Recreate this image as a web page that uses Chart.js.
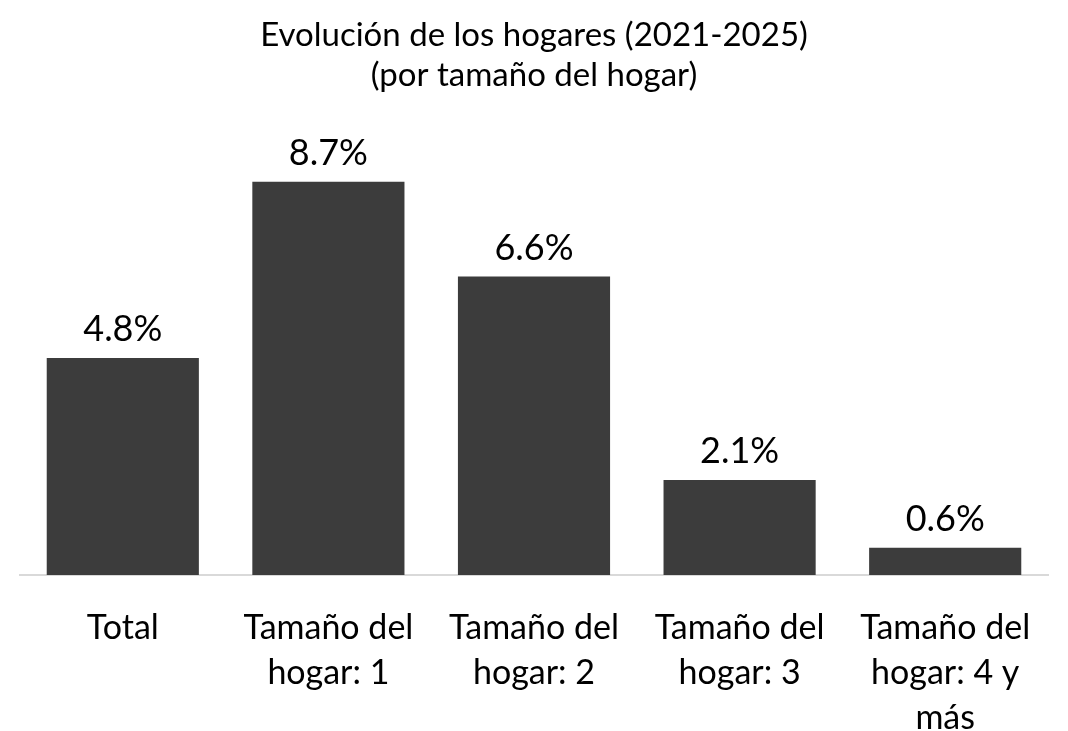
<!DOCTYPE html>
<html lang="es">
<head>
    <meta charset="UTF-8">
    <title>Evolución de los hogares</title>
    <style>
        body { margin: 0; padding: 0; background: #fff; }
        #wrap { width: 1068px; height: 731px; position: relative; }
    </style>
</head>
<body>
    <div id="wrap"><canvas id="grafico"></canvas></div>

    <script src="https://cdn.jsdelivr.net/npm/chart.js"></script>
    <script>
        var categorias = [
            ["Total"],
            ["Tamaño del", "hogar: 1"],
            ["Tamaño del", "hogar: 2"],
            ["Tamaño del", "hogar: 3"],
            ["Tamaño del", "hogar: 4 y", "más"]
        ];
        var valores = [4.8, 8.7, 6.6, 2.1, 0.6];
        var tituloLineas = ["Evolución de los hogares (2021-2025)", "(por tamaño del hogar)"];

        var fuente = "Lato, 'Open Sans', sans-serif";

        // etiquetas encima de cada barra
        var etiquetasBarras = {
            id: 'etiquetasBarras',
            afterDatasetsDraw: function(chart) {
                var ctx = chart.ctx;
                var meta = chart.getDatasetMeta(0);
                ctx.save();
                ctx.font = "36px " + fuente;
                ctx.fillStyle = "#000";
                ctx.textAlign = "center";
                ctx.textBaseline = "alphabetic";
                meta.data.forEach(function(bar, i) {
                    ctx.fillText(valores[i].toFixed(1) + "%", bar.x, bar.y - 17);
                });
                ctx.restore();
            }
        };

        new Chart(document.getElementById("grafico"), {
            type: 'bar',
            data: {
                labels: categorias,
                datasets: [{
                    data: valores,
                    backgroundColor: '#3c3c3c',
                    barPercentage: 0.74,
                    categoryPercentage: 1
                }]
            },
            plugins: [etiquetasBarras],
            options: {
                responsive: true,
                maintainAspectRatio: false,
                animation: false,
                layout: { padding: { left: 20, right: 20, top: 0, bottom: 0 } },
                plugins: {
                    legend: { display: false },
                    tooltip: { enabled: false },
                    title: {
                        display: true,
                        text: tituloLineas,
                        color: '#000',
                        font: { family: fuente, size: 33, weight: 'normal', lineHeight: 1.21 },
                        padding: { top: 15, bottom: 28 }
                    }
                },
                scales: {
                    x: {
                        grid: { display: false },
                        border: { display: true, color: '#d9d9d9', width: 2 },
                        ticks: {
                            color: '#000',
                            font: { family: fuente, size: 34, lineHeight: 1.32 },
                            padding: 23,
                            maxRotation: 0,
                            autoSkip: false
                        },
                        afterFit: function(scale) { scale.height = 156; }
                    },
                    y: {
                        display: false,
                        min: 0,
                        max: 10
                    }
                }
            }
        });
    </script>
</body>
</html>
